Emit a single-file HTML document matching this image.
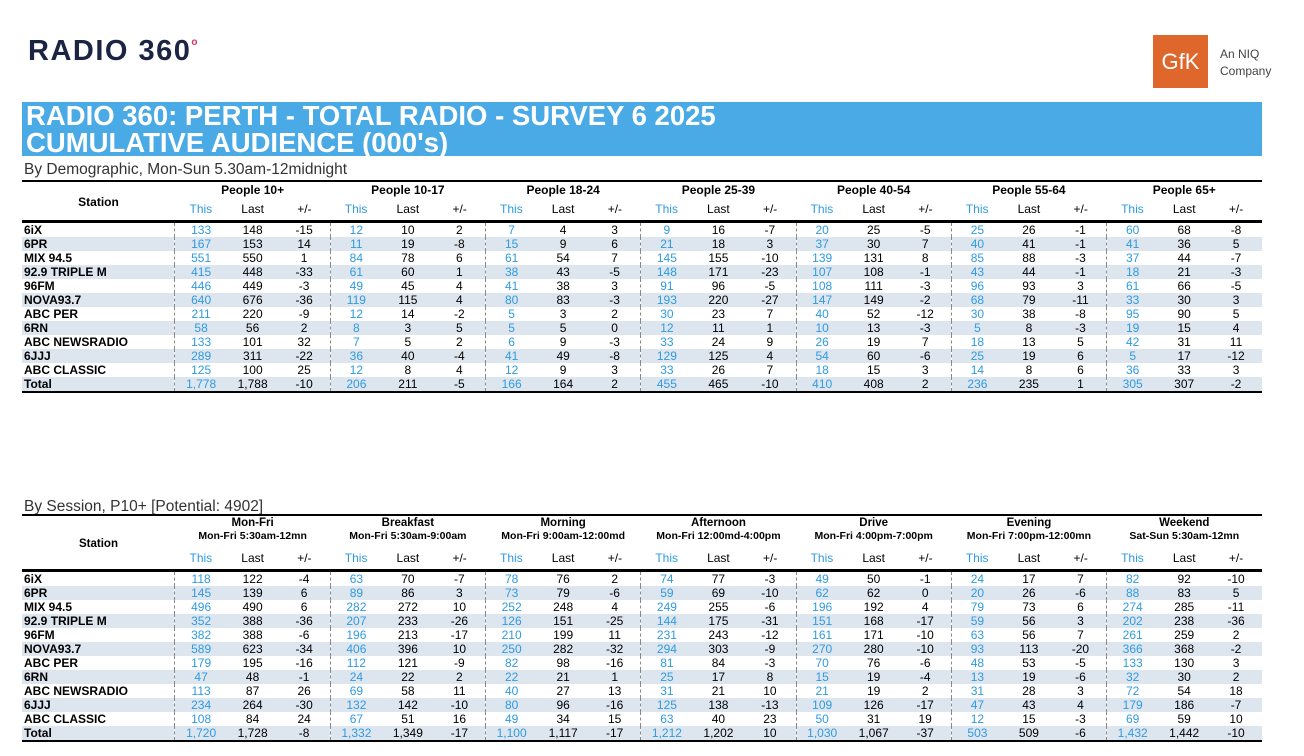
<!DOCTYPE html>
<html><head><meta charset="utf-8"><style>
*{margin:0;padding:0;box-sizing:border-box}
body{width:1304px;height:756px;background:#fff;position:relative;font-family:"Liberation Sans",sans-serif;overflow:hidden;color:#000}
.logo{position:absolute;left:28px;top:35px;font-size:29px;font-weight:bold;color:#1b2442;letter-spacing:1.5px}
.logo sup{color:#d0306a;font-size:10px;vertical-align:top;position:relative;top:2px}
.gfk{position:absolute;left:1153px;top:35px;width:55px;height:53px;background:#e0672b;color:#fff;font-size:22px;text-align:center;line-height:53px}
.niq{position:absolute;left:1220px;top:46px;font-size:12px;color:#444;line-height:17px}
.title{position:absolute;left:22px;top:102px;width:1240px;height:54px;background:#4aaae6;color:#fff;font-weight:bold;font-size:27.5px;line-height:27px;padding:0 4px}
.sub{position:absolute;left:24px;font-size:15.5px;color:#333}
table{position:absolute;left:22px;width:1240px;border-collapse:collapse;table-layout:fixed;font-size:12px}
td,th{text-align:center;padding:0;white-space:nowrap;overflow:hidden}
thead{border-top:2px solid #000;border-bottom:3px solid #000}
th{font-weight:bold}
th.t{color:#2f9be0;font-weight:normal}
th.l{font-weight:normal}
tbody tr{height:14px;line-height:14px}
tbody tr:nth-child(even){background:#dde5ef}
tbody td:first-child{text-align:left;font-weight:bold;padding-left:2px}
tbody td:nth-child(3n+2){color:#2f9be0;border-left:1px dashed #888}
tbody{border-bottom:2px solid #000}
</style></head><body>
<div class="logo">RADIO 360<sup>o</sup></div>
<div class="gfk">GfK</div>
<div class="niq">An NIQ<br>Company</div>
<div class="title">RADIO 360: PERTH - TOTAL RADIO - SURVEY 6 2025<br>CUMULATIVE AUDIENCE (000's)</div>
<div class="sub" style="top:161px">By Demographic, Mon-Sun 5.30am-12midnight</div>
<table style="top:180px">
<colgroup><col style="width:152px"><col span="21" style="width:51.43px"></colgroup>
<thead>
<tr style="height:17px"><th rowspan="2" style="padding-top:2px">Station</th><th colspan="3">People 10+</th><th colspan="3">People 10-17</th><th colspan="3">People 18-24</th><th colspan="3">People 25-39</th><th colspan="3">People 40-54</th><th colspan="3">People 55-64</th><th colspan="3">People 65+</th></tr>
<tr style="height:23px"><th class="t">This</th><th class="l">Last</th><th class="l">+/-</th><th class="t">This</th><th class="l">Last</th><th class="l">+/-</th><th class="t">This</th><th class="l">Last</th><th class="l">+/-</th><th class="t">This</th><th class="l">Last</th><th class="l">+/-</th><th class="t">This</th><th class="l">Last</th><th class="l">+/-</th><th class="t">This</th><th class="l">Last</th><th class="l">+/-</th><th class="t">This</th><th class="l">Last</th><th class="l">+/-</th></tr>
</thead>
<tbody>
<tr><td>6iX</td><td>133</td><td>148</td><td>-15</td><td>12</td><td>10</td><td>2</td><td>7</td><td>4</td><td>3</td><td>9</td><td>16</td><td>-7</td><td>20</td><td>25</td><td>-5</td><td>25</td><td>26</td><td>-1</td><td>60</td><td>68</td><td>-8</td></tr>
<tr><td>6PR</td><td>167</td><td>153</td><td>14</td><td>11</td><td>19</td><td>-8</td><td>15</td><td>9</td><td>6</td><td>21</td><td>18</td><td>3</td><td>37</td><td>30</td><td>7</td><td>40</td><td>41</td><td>-1</td><td>41</td><td>36</td><td>5</td></tr>
<tr><td>MIX 94.5</td><td>551</td><td>550</td><td>1</td><td>84</td><td>78</td><td>6</td><td>61</td><td>54</td><td>7</td><td>145</td><td>155</td><td>-10</td><td>139</td><td>131</td><td>8</td><td>85</td><td>88</td><td>-3</td><td>37</td><td>44</td><td>-7</td></tr>
<tr><td>92.9 TRIPLE M</td><td>415</td><td>448</td><td>-33</td><td>61</td><td>60</td><td>1</td><td>38</td><td>43</td><td>-5</td><td>148</td><td>171</td><td>-23</td><td>107</td><td>108</td><td>-1</td><td>43</td><td>44</td><td>-1</td><td>18</td><td>21</td><td>-3</td></tr>
<tr><td>96FM</td><td>446</td><td>449</td><td>-3</td><td>49</td><td>45</td><td>4</td><td>41</td><td>38</td><td>3</td><td>91</td><td>96</td><td>-5</td><td>108</td><td>111</td><td>-3</td><td>96</td><td>93</td><td>3</td><td>61</td><td>66</td><td>-5</td></tr>
<tr><td>NOVA93.7</td><td>640</td><td>676</td><td>-36</td><td>119</td><td>115</td><td>4</td><td>80</td><td>83</td><td>-3</td><td>193</td><td>220</td><td>-27</td><td>147</td><td>149</td><td>-2</td><td>68</td><td>79</td><td>-11</td><td>33</td><td>30</td><td>3</td></tr>
<tr><td>ABC PER</td><td>211</td><td>220</td><td>-9</td><td>12</td><td>14</td><td>-2</td><td>5</td><td>3</td><td>2</td><td>30</td><td>23</td><td>7</td><td>40</td><td>52</td><td>-12</td><td>30</td><td>38</td><td>-8</td><td>95</td><td>90</td><td>5</td></tr>
<tr><td>6RN</td><td>58</td><td>56</td><td>2</td><td>8</td><td>3</td><td>5</td><td>5</td><td>5</td><td>0</td><td>12</td><td>11</td><td>1</td><td>10</td><td>13</td><td>-3</td><td>5</td><td>8</td><td>-3</td><td>19</td><td>15</td><td>4</td></tr>
<tr><td>ABC NEWSRADIO</td><td>133</td><td>101</td><td>32</td><td>7</td><td>5</td><td>2</td><td>6</td><td>9</td><td>-3</td><td>33</td><td>24</td><td>9</td><td>26</td><td>19</td><td>7</td><td>18</td><td>13</td><td>5</td><td>42</td><td>31</td><td>11</td></tr>
<tr><td>6JJJ</td><td>289</td><td>311</td><td>-22</td><td>36</td><td>40</td><td>-4</td><td>41</td><td>49</td><td>-8</td><td>129</td><td>125</td><td>4</td><td>54</td><td>60</td><td>-6</td><td>25</td><td>19</td><td>6</td><td>5</td><td>17</td><td>-12</td></tr>
<tr><td>ABC CLASSIC</td><td>125</td><td>100</td><td>25</td><td>12</td><td>8</td><td>4</td><td>12</td><td>9</td><td>3</td><td>33</td><td>26</td><td>7</td><td>18</td><td>15</td><td>3</td><td>14</td><td>8</td><td>6</td><td>36</td><td>33</td><td>3</td></tr>
<tr><td>Total</td><td>1,778</td><td>1,788</td><td>-10</td><td>206</td><td>211</td><td>-5</td><td>166</td><td>164</td><td>2</td><td>455</td><td>465</td><td>-10</td><td>410</td><td>408</td><td>2</td><td>236</td><td>235</td><td>1</td><td>305</td><td>307</td><td>-2</td></tr>
</tbody></table>

<div class="sub" style="top:498px">By Session, P10+ [Potential: 4902]</div>
<table style="top:514px">
<colgroup><col style="width:152px"><col span="21" style="width:51.43px"></colgroup>
<thead>
<tr style="height:14px;font-size:11.5px"><th rowspan="3" style="padding-top:4px">Station</th><th colspan="3">Mon-Fri</th><th colspan="3">Breakfast</th><th colspan="3">Morning</th><th colspan="3">Afternoon</th><th colspan="3">Drive</th><th colspan="3">Evening</th><th colspan="3">Weekend</th></tr>
<tr style="height:14px;font-size:10.5px"><th colspan="3">Mon-Fri 5:30am-12mn</th><th colspan="3">Mon-Fri 5:30am-9:00am</th><th colspan="3">Mon-Fri 9:00am-12:00md</th><th colspan="3">Mon-Fri 12:00md-4:00pm</th><th colspan="3">Mon-Fri 4:00pm-7:00pm</th><th colspan="3">Mon-Fri 7:00pm-12:00mn</th><th colspan="3">Sat-Sun 5:30am-12mn</th></tr>
<tr style="height:27px"><th class="t" style="padding-top:4px">This</th><th class="l" style="padding-top:4px">Last</th><th class="l" style="padding-top:4px">+/-</th><th class="t" style="padding-top:4px">This</th><th class="l" style="padding-top:4px">Last</th><th class="l" style="padding-top:4px">+/-</th><th class="t" style="padding-top:4px">This</th><th class="l" style="padding-top:4px">Last</th><th class="l" style="padding-top:4px">+/-</th><th class="t" style="padding-top:4px">This</th><th class="l" style="padding-top:4px">Last</th><th class="l" style="padding-top:4px">+/-</th><th class="t" style="padding-top:4px">This</th><th class="l" style="padding-top:4px">Last</th><th class="l" style="padding-top:4px">+/-</th><th class="t" style="padding-top:4px">This</th><th class="l" style="padding-top:4px">Last</th><th class="l" style="padding-top:4px">+/-</th><th class="t" style="padding-top:4px">This</th><th class="l" style="padding-top:4px">Last</th><th class="l" style="padding-top:4px">+/-</th></tr>
</thead>
<tbody>
<tr><td>6iX</td><td>118</td><td>122</td><td>-4</td><td>63</td><td>70</td><td>-7</td><td>78</td><td>76</td><td>2</td><td>74</td><td>77</td><td>-3</td><td>49</td><td>50</td><td>-1</td><td>24</td><td>17</td><td>7</td><td>82</td><td>92</td><td>-10</td></tr>
<tr><td>6PR</td><td>145</td><td>139</td><td>6</td><td>89</td><td>86</td><td>3</td><td>73</td><td>79</td><td>-6</td><td>59</td><td>69</td><td>-10</td><td>62</td><td>62</td><td>0</td><td>20</td><td>26</td><td>-6</td><td>88</td><td>83</td><td>5</td></tr>
<tr><td>MIX 94.5</td><td>496</td><td>490</td><td>6</td><td>282</td><td>272</td><td>10</td><td>252</td><td>248</td><td>4</td><td>249</td><td>255</td><td>-6</td><td>196</td><td>192</td><td>4</td><td>79</td><td>73</td><td>6</td><td>274</td><td>285</td><td>-11</td></tr>
<tr><td>92.9 TRIPLE M</td><td>352</td><td>388</td><td>-36</td><td>207</td><td>233</td><td>-26</td><td>126</td><td>151</td><td>-25</td><td>144</td><td>175</td><td>-31</td><td>151</td><td>168</td><td>-17</td><td>59</td><td>56</td><td>3</td><td>202</td><td>238</td><td>-36</td></tr>
<tr><td>96FM</td><td>382</td><td>388</td><td>-6</td><td>196</td><td>213</td><td>-17</td><td>210</td><td>199</td><td>11</td><td>231</td><td>243</td><td>-12</td><td>161</td><td>171</td><td>-10</td><td>63</td><td>56</td><td>7</td><td>261</td><td>259</td><td>2</td></tr>
<tr><td>NOVA93.7</td><td>589</td><td>623</td><td>-34</td><td>406</td><td>396</td><td>10</td><td>250</td><td>282</td><td>-32</td><td>294</td><td>303</td><td>-9</td><td>270</td><td>280</td><td>-10</td><td>93</td><td>113</td><td>-20</td><td>366</td><td>368</td><td>-2</td></tr>
<tr><td>ABC PER</td><td>179</td><td>195</td><td>-16</td><td>112</td><td>121</td><td>-9</td><td>82</td><td>98</td><td>-16</td><td>81</td><td>84</td><td>-3</td><td>70</td><td>76</td><td>-6</td><td>48</td><td>53</td><td>-5</td><td>133</td><td>130</td><td>3</td></tr>
<tr><td>6RN</td><td>47</td><td>48</td><td>-1</td><td>24</td><td>22</td><td>2</td><td>22</td><td>21</td><td>1</td><td>25</td><td>17</td><td>8</td><td>15</td><td>19</td><td>-4</td><td>13</td><td>19</td><td>-6</td><td>32</td><td>30</td><td>2</td></tr>
<tr><td>ABC NEWSRADIO</td><td>113</td><td>87</td><td>26</td><td>69</td><td>58</td><td>11</td><td>40</td><td>27</td><td>13</td><td>31</td><td>21</td><td>10</td><td>21</td><td>19</td><td>2</td><td>31</td><td>28</td><td>3</td><td>72</td><td>54</td><td>18</td></tr>
<tr><td>6JJJ</td><td>234</td><td>264</td><td>-30</td><td>132</td><td>142</td><td>-10</td><td>80</td><td>96</td><td>-16</td><td>125</td><td>138</td><td>-13</td><td>109</td><td>126</td><td>-17</td><td>47</td><td>43</td><td>4</td><td>179</td><td>186</td><td>-7</td></tr>
<tr><td>ABC CLASSIC</td><td>108</td><td>84</td><td>24</td><td>67</td><td>51</td><td>16</td><td>49</td><td>34</td><td>15</td><td>63</td><td>40</td><td>23</td><td>50</td><td>31</td><td>19</td><td>12</td><td>15</td><td>-3</td><td>69</td><td>59</td><td>10</td></tr>
<tr><td>Total</td><td>1,720</td><td>1,728</td><td>-8</td><td>1,332</td><td>1,349</td><td>-17</td><td>1,100</td><td>1,117</td><td>-17</td><td>1,212</td><td>1,202</td><td>10</td><td>1,030</td><td>1,067</td><td>-37</td><td>503</td><td>509</td><td>-6</td><td>1,432</td><td>1,442</td><td>-10</td></tr>
</tbody></table>
</body></html>
